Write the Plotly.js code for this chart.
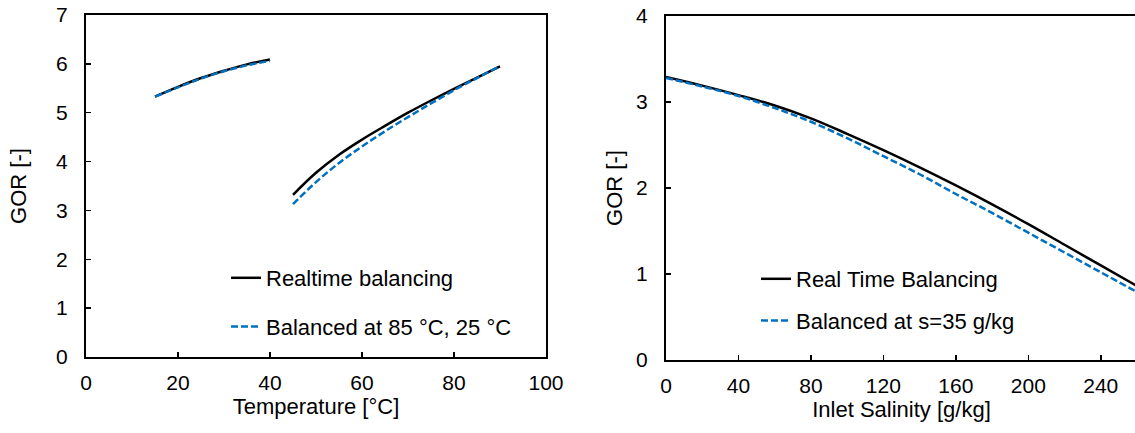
<!DOCTYPE html>
<html>
<head>
<meta charset="utf-8">
<script src="https://cdn.plot.ly/plotly-3.0.1.min.js"></script>
<style>
html,body{margin:0;padding:0;overflow:hidden;background:#fff;}
#chart{width:1140px;height:433px;}
</style>
</head>
<body>
<div id="chart"></div>
<script>
// Left chart: GOR vs Temperature (two separate temperature ranges, null = gap)
const tempX = [15, 20, 25, 30, 35, 40, null, 45, 50, 55, 60, 65, 70, 75, 80, 85, 90];
const gorRealtime = [5.33, 5.53, 5.71, 5.86, 5.99, 6.09, null, 3.32, 3.77, 4.14, 4.45, 4.73, 5.00, 5.25, 5.49, 5.72, 5.95];
const gorBalanced85 = [5.33, 5.52, 5.70, 5.85, 5.97, 6.06, null, 3.13, 3.58, 3.97, 4.31, 4.62, 4.91, 5.19, 5.46, 5.71, 5.95];

// Right chart: GOR vs Inlet Salinity
const salinityX = [0, 20, 40, 60, 80, 100, 120, 140, 160, 180, 200, 220, 240, 260];
const gorRealTimeSal = [3.29, 3.19, 3.08, 2.96, 2.81, 2.63, 2.44, 2.24, 2.03, 1.81, 1.58, 1.34, 1.10, 0.86];
const gorBalanced35 = [3.28, 3.18, 3.07, 2.93, 2.77, 2.58, 2.37, 2.16, 1.93, 1.71, 1.48, 1.25, 1.02, 0.79];

const leftTicksX = [0, 20, 40, 60, 80, 100];
const leftTicksY = [0, 1, 2, 3, 4, 5, 6, 7];
const rightTicksX = [0, 40, 80, 120, 160, 200, 240];
const rightTicksY = [0, 1, 2, 3, 4];

const FONT = 'Liberation Sans, Arial, sans-serif';
const BLUE = '#0070C0';

const traces = [
  {x: tempX, y: gorRealtime, type: 'scatter', mode: 'lines', name: 'Realtime balancing',
   line: {color: '#000', width: 2.5, shape: 'spline'}, connectgaps: false,
   xaxis: 'x', yaxis: 'y', legend: 'legend', legendgroup: 'a'},
  {x: tempX, y: gorBalanced85, type: 'scatter', mode: 'lines', name: 'Balanced at 85 °C, 25 °C',
   line: {color: BLUE, width: 2.5, dash: '7px,3px', shape: 'spline'}, connectgaps: false,
   xaxis: 'x', yaxis: 'y', legend: 'legend', legendgroup: 'b'},
  {x: salinityX, y: gorRealTimeSal, type: 'scatter', mode: 'lines', name: 'Real Time Balancing',
   line: {color: '#000', width: 2.5, shape: 'spline'},
   xaxis: 'x2', yaxis: 'y2', legend: 'legend2', legendgroup: 'c'},
  {x: salinityX, y: gorBalanced35, type: 'scatter', mode: 'lines', name: 'Balanced at s=35 g/kg',
   line: {color: BLUE, width: 2.5, dash: '7px,3px', shape: 'spline'},
   xaxis: 'x2', yaxis: 'y2', legend: 'legend2', legendgroup: 'd'}
];

const W = 1140, H = 433;
function axisBase() {
  return {
    showline: true, mirror: true, linecolor: '#000', linewidth: 2,
    ticks: 'inside', ticklen: 5, tickwidth: 1.5, tickcolor: '#000',
    showgrid: false, zeroline: false,
    tickfont: {family: FONT, size: 21, color: '#000'},
    ticklabelstandoff: 12
  };
}
const TITLE_FONT = {family: FONT, size: 22, color: '#000'};

const layout = {
  width: W, height: H,
  margin: {l: 0, r: 0, t: 0, b: 0},
  paper_bgcolor: '#fff', plot_bgcolor: '#fff',
  font: {family: FONT, color: '#000'},
  showlegend: true,
  xaxis: Object.assign(axisBase(), {
    domain: [86 / W, 546 / W], range: [0, 100], tickvals: leftTicksX, anchor: 'y',
    ticklabelstandoff: 6,
    title: {text: 'Temperature [°C]', font: TITLE_FONT, standoff: 0}
  }),
  yaxis: Object.assign(axisBase(), {
    domain: [1 - 357 / H, 1 - 15 / H], range: [0, 7], tickvals: leftTicksY, anchor: 'x',
    title: {text: 'GOR [-]', font: TITLE_FONT, standoff: 23}
  }),
  xaxis2: Object.assign(axisBase(), {
    domain: [666 / W, 1137 / W], range: [0, 260], tickvals: rightTicksX, anchor: 'y2',
    ticklabelstandoff: 6,
    title: {text: 'Inlet Salinity [g/kg]', font: TITLE_FONT, standoff: 0}
  }),
  yaxis2: Object.assign(axisBase(), {
    domain: [1 - 360 / H, 1 - 16 / H], range: [0, 4], tickvals: rightTicksY, anchor: 'x2',
    title: {text: 'GOR [-]', font: TITLE_FONT, standoff: 7}
  }),
  legend: {
    x: 226 / W, y: 1 - 257 / H, xanchor: 'left', yanchor: 'top',
    bgcolor: 'rgba(0,0,0,0)', borderwidth: 0,
    font: TITLE_FONT,
    traceorder: 'grouped', tracegroupgap: 17
  },
  legend2: {
    x: 756 / W, y: 1 - 258 / H, xanchor: 'left', yanchor: 'top',
    bgcolor: 'rgba(0,0,0,0)', borderwidth: 0,
    font: TITLE_FONT,
    traceorder: 'grouped', tracegroupgap: 10
  }
};

Plotly.newPlot('chart', traces, layout, {staticPlot: true, displayModeBar: false});
</script>
</body>
</html>
